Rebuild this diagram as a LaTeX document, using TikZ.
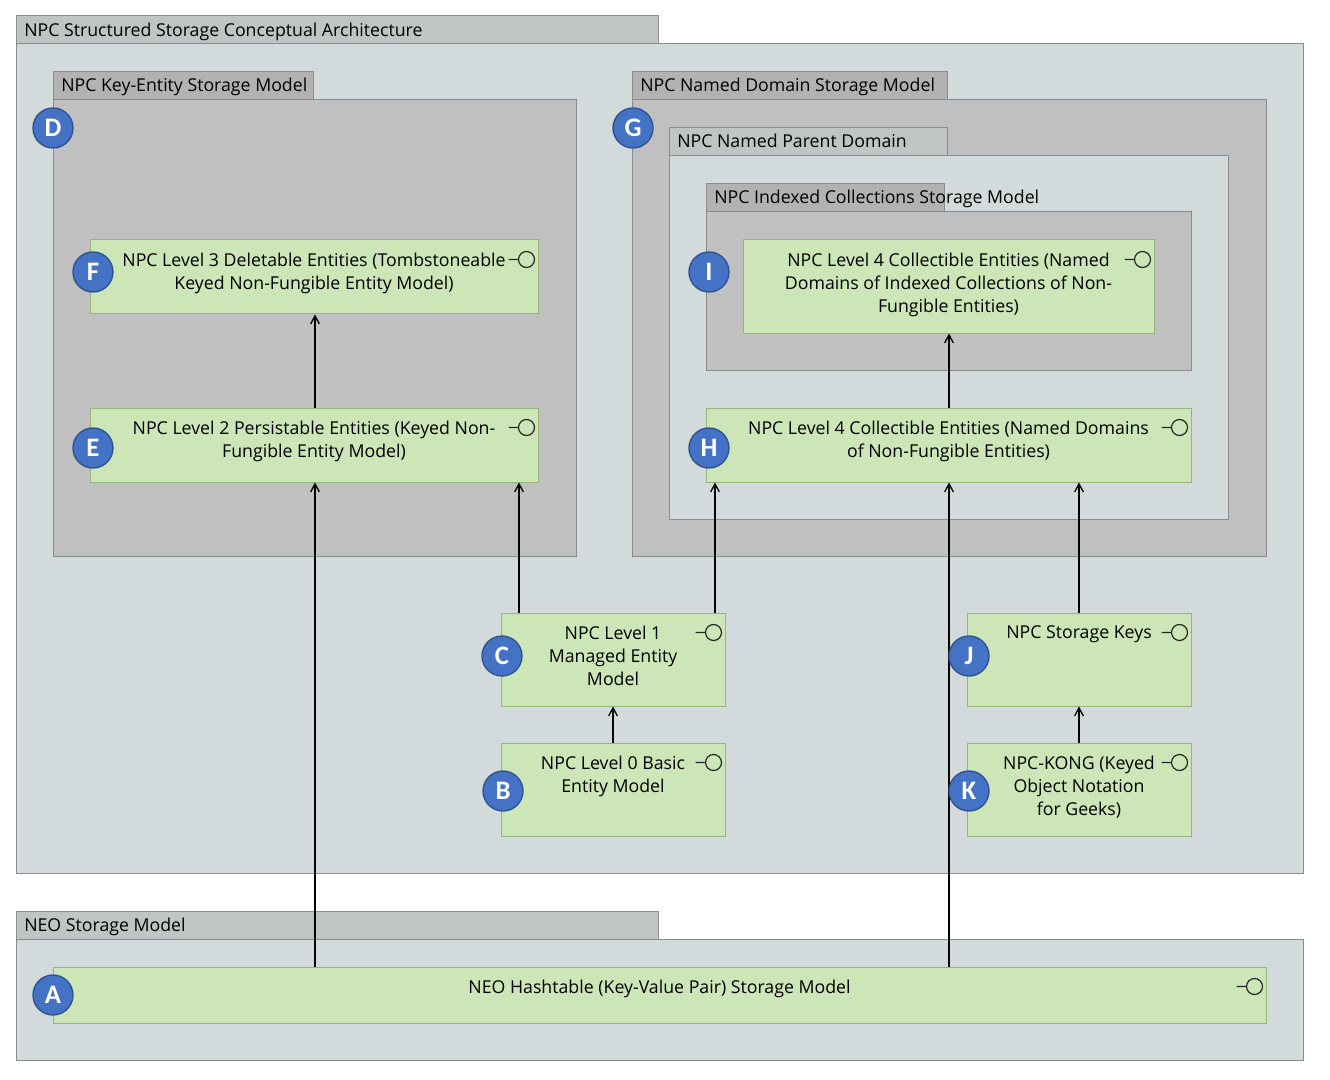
\documentclass[tikz,border=0pt]{standalone}
\usepackage{fontspec}
\setmainfont{Open Sans}
\newfontfamily\badgefont{Carlito}
\usetikzlibrary{arrows.meta,fit,calc}

\definecolor{framebg}{RGB}{211,218,219}
\definecolor{frametab}{RGB}{191,196,197}
\definecolor{pkgbg}{RGB}{192,192,192}
\definecolor{pkgtab}{RGB}{178,178,178}
\definecolor{linegray}{RGB}{140,140,140}
\definecolor{compbg}{RGB}{204,230,184}
\definecolor{compline}{RGB}{150,180,125}
\definecolor{badgebg}{RGB}{68,114,196}
\definecolor{badgeline}{RGB}{47,82,143}

\begin{document}
\begin{tikzpicture}[x=0.75pt,y=-0.75pt,
        framebody/.style={draw=linegray, fill=framebg, inner sep=0pt, line width=0.75pt},
        frametabs/.style={draw=linegray, fill=frametab, inner sep=0pt, line width=0.75pt},
        pkgbody/.style={draw=linegray, fill=pkgbg, inner sep=0pt, line width=0.75pt},
        pkgtabs/.style={draw=linegray, fill=pkgtab, inner sep=0pt, line width=0.75pt},
        comp/.style={draw=compline, fill=compbg, inner sep=0pt, line width=0.75pt},
        compname/.style={align=center, anchor=north, inner sep=0pt,
            font=\fontsize{13.3}{17.25}\selectfont},
        tabname/.style={anchor=base west, inner sep=0pt, font=\fontsize{13.3}{16}\selectfont},
        badge/.style={circle, draw=badgeline, fill=badgebg, line width=1pt,
            minimum size=30pt, inner sep=0pt, text=white,
            font=\badgefont\bfseries\fontsize{20}{20}\selectfont},
        dep/.style={-{Straight Barb[length=6pt,width=6.5pt]}, line width=1pt},
        lolli/.style={line width=0.9pt, draw=black!85}]

        \useasboundingbox (0,0) rectangle (1330,1080);

        % draw the outer frame
        \node[frametabs, fit={(16,16) (658,44)}] (archTab) {};
        \node[framebody, fit={(16,44) (1303,873)}] (arch) {};
        \node[tabname] (archName) at (24,37) {NPC Structured Storage Conceptual Architecture};

        % draw the key-entity package
        \node[pkgtabs, fit={(53,72) (313,100)}] (keyTab) {};
        \node[pkgbody, fit={(53,100) (576,556)}] (keyPkg) {};
        \node[tabname] (keyName) at (61,92) {NPC Key-Entity Storage Model};

        % draw the named domain packages, one inside the other
        \node[pkgtabs, fit={(632,72) (947,100)}] (domTab) {};
        \node[pkgbody, fit={(632,100) (1266,556)}] (domPkg) {};
        \node[tabname] (domName) at (640,92) {NPC Named Domain Storage Model};

        \node[frametabs, fit={(669,128) (947,156)}] (parTab) {};
        \node[framebody, fit={(669,156) (1228,519)}] (parPkg) {};
        \node[tabname] (parName) at (677,148) {NPC Named Parent Domain};

        \node[pkgtabs, fit={(706,184) (944,212)}] (idxTab) {};
        \node[pkgbody, fit={(706,212) (1191,370)}] (idxPkg) {};
        \node[tabname] (idxName) at (714,204) {NPC Indexed Collections Storage Model};

        % draw the NEO frame
        \node[frametabs, fit={(16,911) (658,939)}] (neoTab) {};
        \node[framebody, fit={(16,939) (1303,1060)}] (neo) {};
        \node[tabname] (neoName) at (24,931) {NEO Storage Model};

        % draw the components
        \node[comp, fit={(90,240) (538,314)}] (F) {};
        \node[comp, fit={(90,408) (538,482)}] (E) {};
        \node[comp, fit={(743,240) (1154,333)}] (I) {};
        \node[comp, fit={(706,408) (1191,482)}] (H) {};
        \node[comp, fit={(501,613) (725,706)}] (C) {};
        \node[comp, fit={(501,743) (725,836)}] (B) {};
        \node[comp, fit={(967,613) (1191,706)}] (J) {};
        \node[comp, fit={(967,743) (1191,836)}] (K) {};
        \node[comp, fit={(53,967) (1266,1023)}] (A) {};

        % the names sit at the top of each component
        \foreach \b/\btext in {
            F/{NPC Level 3 Deletable Entities (Tombstoneable\\Keyed Non-Fungible Entity Model)},
            E/{NPC Level 2 Persistable Entities (Keyed Non-\\Fungible Entity Model)},
            I/{NPC Level 4 Collectible Entities (Named\\Domains of Indexed Collections of Non-\\Fungible Entities)},
            H/{NPC Level 4 Collectible Entities (Named Domains\\of Non-Fungible Entities)},
            C/{NPC Level 1\\Managed Entity\\Model},
            B/{NPC Level 0 Basic\\Entity Model},
            J/{NPC Storage Keys},
            K/{NPC-KONG (Keyed\\Object Notation\\for Geeks)},
            A/{NEO Hashtable (Key-Value Pair) Storage Model}}
                \node[compname] (\b name) at ($(\b.north)+(0,13)$) {\btext};

        % draw the interface lollipops
        \foreach \b in {F,E,I,H,C,B,J,K,A}
                \draw[lolli] ($(\b.north east)+(-30,20)$) -- ++(10,0) ++(8,0) circle[radius=6pt];

        % draw the dependencies
        \foreach \from/\to/\x in {A/E/315, E/F/315, C/E/519, C/H/715, A/H/949,
                                  J/H/1079, H/I/949, B/C/613, K/J/1079} {
                \path (\x,0) coordinate (col);
                \draw[dep] (\from.north -| col) -- (\to.south -| col);
        }

        % draw the letter badges
        \foreach \l/\x/\y in {D/53/128, F/93/272, E/93/448, C/502/656, B/503/791,
                              G/633/128, I/709/272, H/709/448, J/969/656, K/969/791, A/53/995}
                \node[badge] (badge\l) at (\x,\y) {\l};
\end{tikzpicture}
\end{document}
